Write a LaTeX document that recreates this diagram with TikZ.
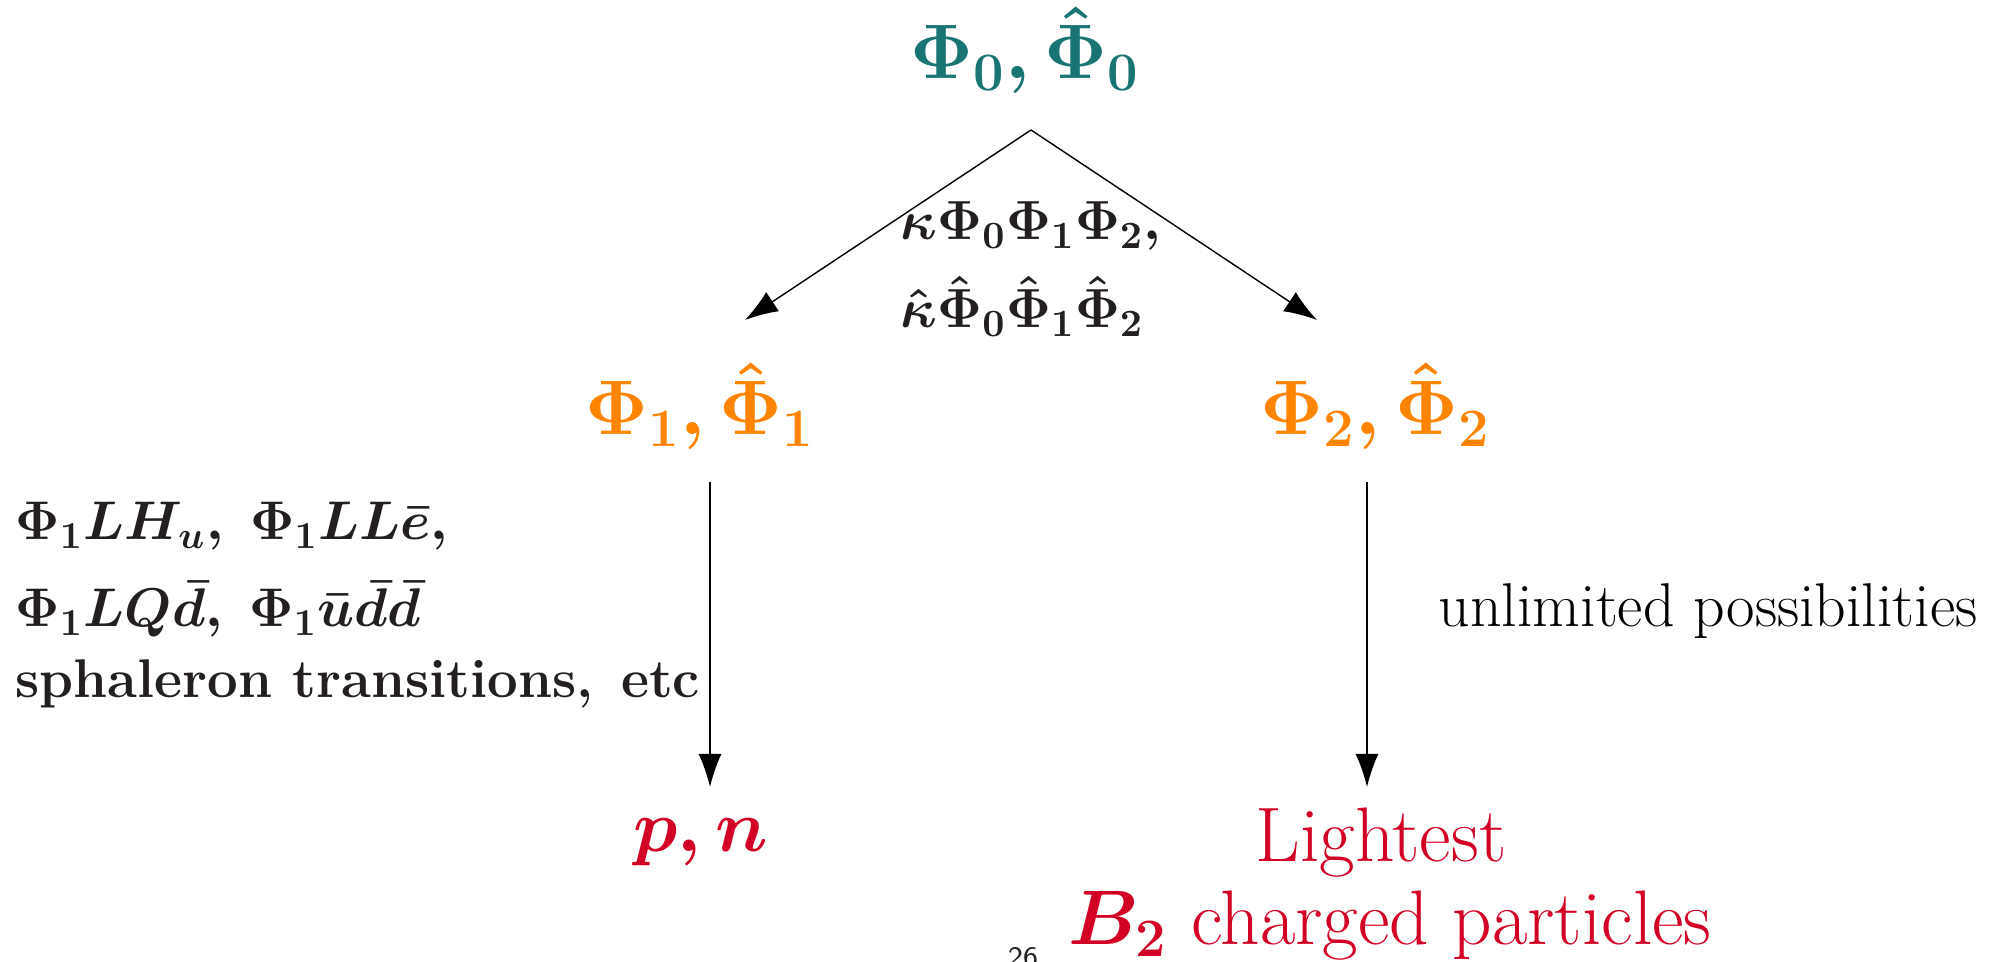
\documentclass[tikz,border=0pt]{standalone}
\usepackage{fix-cm}
\usepackage{amsmath}
\usepackage{fontspec}
\usetikzlibrary{arrows.meta,positioning}

\definecolor{rootteal}{RGB}{24,117,115}
\definecolor{midorange}{RGB}{255,133,0}
\definecolor{endred}{RGB}{210,0,35}
\definecolor{inkgray}{RGB}{35,31,32}

\tikzset{
  decay/.style={-{Latex[length=3.3mm,width=2.3mm]}, line width=0.4pt},
  field/.style={anchor=base, inner sep=0pt, font=\fontsize{22}{26}\selectfont\boldmath},
  coupling/.style={anchor=base west, inner sep=0pt, text=inkgray, font=\fontsize{15.5}{18}\selectfont\boldmath},
  plain/.style={inner sep=0pt, font=\fontsize{22}{26}\selectfont}
}

\begin{document}
\begin{tikzpicture}
\useasboundingbox (0,0) rectangle (20.01,9.62);

% fields
\node[field, text=rootteal] (P0) at (10.25,8.83) {$\Phi_0,\hat{\Phi}_0$};
\node[field, text=midorange] (P1) at (7.00,5.27) {$\Phi_1,\hat{\Phi}_1$};
\node[field, text=midorange] (P2) at (13.755,5.27) {$\Phi_2,\hat{\Phi}_2$};

% decay products
\node[field, text=endred, font=\fontsize{21}{25}\selectfont\boldmath] (pn) at (7.01,1.10) {$p,n$};
\node[plain, anchor=base, text=endred] (light) at (13.81,1.00) {Lightest};
\node[plain, anchor=base, text=endred, font=\fontsize{22}{26}\selectfont\boldmath] (charged) at (13.90,0.17) {$B_2$ charged particles};

% couplings
\node[coupling, font=\fontsize{15.7}{18}\selectfont\boldmath] (k1) at (9.00,7.22) {$\kappa\Phi_0\Phi_1\Phi_2,$};
\node[coupling, font=\fontsize{15.7}{18}\selectfont\boldmath] (k2) at (9.00,6.34) {$\hat{\kappa}\hat{\Phi}_0\hat{\Phi}_1\hat{\Phi}_2$};
\node[coupling] (op1) at (0.15,4.22) {$\Phi_1LH_u,\ \Phi_1LL\bar{e},$};
\node[coupling] (op2) at (0.15,3.35) {$\Phi_1LQ\bar{d},\ \Phi_1\bar{u}\bar{d}\bar{d}$};
\node[coupling, font=\fontsize{15.5}{18}\selectfont\bfseries] (op3) at (0.15,2.64) {sphaleron transitions,\enspace etc};
\node[plain, anchor=base west, font=\fontsize{17.6}{21}\selectfont] (free) at (14.38,3.35) {unlimited possibilities};

% arrows
\coordinate (split) at (10.31,8.32);
\coordinate (tipL) at (7.45,6.42);
\coordinate (tipR) at (13.17,6.42);
\coordinate (downL) at (7.10,4.80);
\coordinate (downR) at (13.67,4.80);
\coordinate (endL) at (7.10,1.75);
\coordinate (endR) at (13.67,1.75);

\draw[decay] (split) -- (tipL);
\draw[decay] (split) -- (tipR);
\draw[decay] (downL) -- (endL);
\draw[decay] (downR) -- (endR);

\node[anchor=north, inner sep=0pt, font=\sffamily\fontsize{8}{8}\selectfont, text=inkgray] (page) at (10.23,0.15) {26};
\end{tikzpicture}
\end{document}
